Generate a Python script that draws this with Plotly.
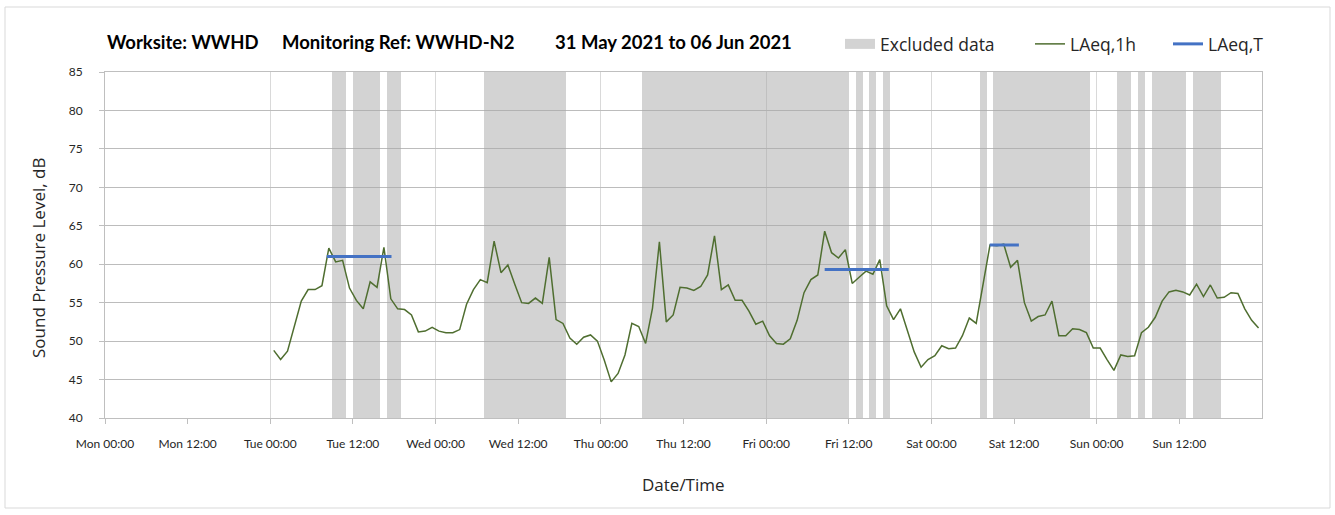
import pandas as pd
import plotly.graph_objects as go

# ---------------- data ----------------
# hourly LAeq,1h values, Tue 01 Jun 2021 00:00 -> Sun 06 Jun 2021 23:00 (plotted at mid-hour)
laeq_1h_tue = [48.8, 47.6, 48.7, 51.9, 55.2, 56.7, 56.7, 57.2, 62.1, 60.3, 60.5, 56.9,
               55.3, 54.2, 57.7, 57.0, 62.2, 55.5, 54.2, 54.1, 53.4, 51.2, 51.3, 51.8]
laeq_1h_wed = [51.3, 51.1, 51.1, 51.5, 54.8, 56.7, 58.0, 57.6, 63.0, 58.9, 59.9, 57.4,
               55.0, 54.9, 55.6, 54.9, 60.9, 52.8, 52.3, 50.4, 49.6, 50.5, 50.8, 50.0]
laeq_1h_thu = [47.5, 44.7, 45.8, 48.2, 52.3, 51.9, 49.7, 54.3, 62.9, 52.5, 53.4, 57.0,
               56.9, 56.6, 57.1, 58.6, 63.7, 56.7, 57.3, 55.3, 55.3, 53.9, 52.2, 52.6]
laeq_1h_fri = [50.7, 49.7, 49.6, 50.3, 52.7, 56.3, 58.0, 58.6, 64.3, 61.5, 60.8, 61.9,
               57.5, 58.3, 59.1, 58.7, 60.6, 54.6, 52.8, 54.2, 51.3, 48.6, 46.6, 47.6]
laeq_1h_sat = [48.1, 49.4, 49.0, 49.1, 50.7, 53.0, 52.3, 57.4, 62.5, 62.4, 62.6, 59.6,
               60.5, 55.0, 52.6, 53.2, 53.4, 55.2, 50.7, 50.7, 51.6, 51.5, 51.1, 49.1]
laeq_1h_sun = [49.1, 47.6, 46.2, 48.2, 48.0, 48.1, 51.1, 51.8, 53.1, 55.2, 56.4, 56.6,
               56.4, 56.0, 57.4, 55.8, 57.3, 55.6, 55.7, 56.3, 56.2, 54.2, 52.7, 51.7]
first_hour = "2021-06-01 00:30"

# LAeq,T periods
laeq_t_start = ["2021-06-01 08:12", "2021-06-04 08:30", "2021-06-05 08:28"]
laeq_t_end = ["2021-06-01 17:36", "2021-06-04 17:48", "2021-06-05 12:42"]
laeq_t_value = [61.0, 59.3, 62.5]

# excluded data periods
excluded_start = ["2021-06-01 09:00", "2021-06-01 12:00", "2021-06-01 17:00",
                  "2021-06-02 07:00", "2021-06-03 06:00", "2021-06-04 13:00",
                  "2021-06-04 15:00", "2021-06-04 17:00", "2021-06-05 07:00",
                  "2021-06-05 09:00", "2021-06-06 03:00", "2021-06-06 06:00",
                  "2021-06-06 08:00", "2021-06-06 14:00"]
excluded_end = ["2021-06-01 11:00", "2021-06-01 16:00", "2021-06-01 19:00",
                "2021-06-02 19:00", "2021-06-04 12:00", "2021-06-04 14:00",
                "2021-06-04 16:00", "2021-06-04 18:00", "2021-06-05 08:00",
                "2021-06-05 23:00", "2021-06-06 05:00", "2021-06-06 07:00",
                "2021-06-06 13:00", "2021-06-06 18:00"]

axis_start = "2021-05-31 00:00"
axis_end = "2021-06-07 00:00"
tick_labels = ["Mon 00:00", "Mon 12:00", "Tue 00:00", "Tue 12:00", "Wed 00:00",
               "Wed 12:00", "Thu 00:00", "Thu 12:00", "Fri 00:00", "Fri 12:00",
               "Sat 00:00", "Sat 12:00", "Sun 00:00", "Sun 12:00"]
y_min, y_max = 40, 85

title_parts = ["Worksite: WWHD", "Monitoring Ref: WWHD-N2", "31 May 2021 to 06 Jun 2021"]

# ---------------- build ----------------
laeq_1h = laeq_1h_tue + laeq_1h_wed + laeq_1h_thu + laeq_1h_fri + laeq_1h_sat + laeq_1h_sun
times = pd.date_range(first_hour, periods=len(laeq_1h), freq="h")

ex_s = pd.to_datetime(excluded_start)
ex_e = pd.to_datetime(excluded_end)
ex_width = [(e - s).total_seconds() * 1000 for s, e in zip(ex_s, ex_e)]

t_x, t_y = [], []
for s, e, v in zip(laeq_t_start, laeq_t_end, laeq_t_value):
    t_x += [s, e, None]
    t_y += [v, v, None]

tickvals = pd.date_range(axis_start, periods=len(tick_labels), freq="12h")
day_grid = pd.date_range(axis_start, axis_end, freq="D")

TICK_FONT = "Lato"
TEXT_FONT = "Open Sans"
TXT = "#262626"
GREY_BAND = "#d3d3d3"

fig = go.Figure()
fig.add_trace(go.Bar(
    x=ex_s, y=[y_max] * len(ex_s), width=ex_width, offset=0,
    marker=dict(color="rgba(167,167,167,0.5)", line=dict(width=0)),
    showlegend=False, hoverinfo="skip"))
fig.add_trace(go.Scatter(
    x=[None], y=[None], mode="lines", name="Excluded data",
    line=dict(color=GREY_BAND, width=11), legend="legend"))
fig.add_trace(go.Scatter(
    x=times, y=laeq_1h, mode="lines", name="LAeq,1h",
    line=dict(color="#4f6e30", width=1.5), legend="legend2"))
fig.add_trace(go.Scatter(
    x=t_x, y=t_y, mode="lines", name="LAeq,T",
    line=dict(color="#4472c4", width=3), legend="legend3"))

L, R, T, B = 105, 73, 72, 97
W, H = 1335, 515
pw, ph = W - L - R, H - T - B


def px(x):
    return (x - L) / pw


def py(y):
    return (H - B - y) / ph


legend_common = dict(orientation="h", yanchor="middle", y=py(44), xanchor="left",
                     font=dict(family=TEXT_FONT, size=17.5, color=TXT),
                     bgcolor="rgba(0,0,0,0)")

fig.update_layout(
    width=W, height=H,
    margin=dict(l=L, r=R, t=T, b=B, autoexpand=False),
    paper_bgcolor="white", plot_bgcolor="white",
    font=dict(family=TEXT_FONT, color=TXT),
    bargap=0,
    legend=dict(x=px(840), **legend_common),
    legend2=dict(x=px(1030), **legend_common),
    legend3=dict(x=px(1168), **legend_common),
    xaxis=dict(
        type="date", range=[axis_start, axis_end],
        tickmode="array", tickvals=tickvals, ticktext=tick_labels,
        ticks="outside", ticklen=5, tickcolor="#bfbfbf",
        tickfont=dict(family=TICK_FONT, size=12, color=TXT),
        ticklabelstandoff=10,
        showgrid=False,
        minor=dict(tickmode="array", tickvals=day_grid, showgrid=True,
                   gridcolor="#d9d9d9", gridwidth=1, ticks=""),
        showline=True, linecolor="#bfbfbf", linewidth=1, mirror=True,
        zeroline=False,
    ),
    yaxis=dict(
        range=[y_min, y_max], dtick=5, tick0=40,
        ticks="outside", ticklen=5, tickcolor="#bfbfbf",
        tickfont=dict(family=TICK_FONT, size=12, color=TXT),
        ticklabelstandoff=14,
        showgrid=True, gridcolor="#bcbcbc", gridwidth=1,
        showline=True, linecolor="#bfbfbf", linewidth=1, mirror=True,
        zeroline=False,
    ),
    shapes=[dict(type="rect", xref="paper", yref="paper",
                 x0=px(5), x1=px(1330), y0=py(508), y1=py(7),
                 line=dict(color="#d9d9d9", width=1), fillcolor="rgba(0,0,0,0)",
                 layer="below")],
)

title_x = [105, 280, 553]
for t, x in zip(title_parts, title_x):
    fig.add_annotation(text="<b>" + t + "</b>", xref="paper", yref="paper",
                       x=px(x), y=py(42), xanchor="left", yanchor="middle",
                       showarrow=False, font=dict(family="Lato", size=18.5, color="black"))

fig.add_annotation(text="Sound Pressure Level, dB", xref="paper", yref="paper",
                   x=px(38), y=py(258), xanchor="center", yanchor="middle",
                   textangle=-90, showarrow=False,
                   font=dict(family=TEXT_FONT, size=17, color=TXT))
fig.add_annotation(text="Date/Time", xref="paper", yref="paper",
                   x=0.5, y=py(484), xanchor="center", yanchor="middle",
                   showarrow=False, font=dict(family=TEXT_FONT, size=17, color=TXT))

fig.write_html("out.html", config={"displayModeBar": False},
               post_script="document.body.style.margin='0';document.body.style.overflow='hidden';")
